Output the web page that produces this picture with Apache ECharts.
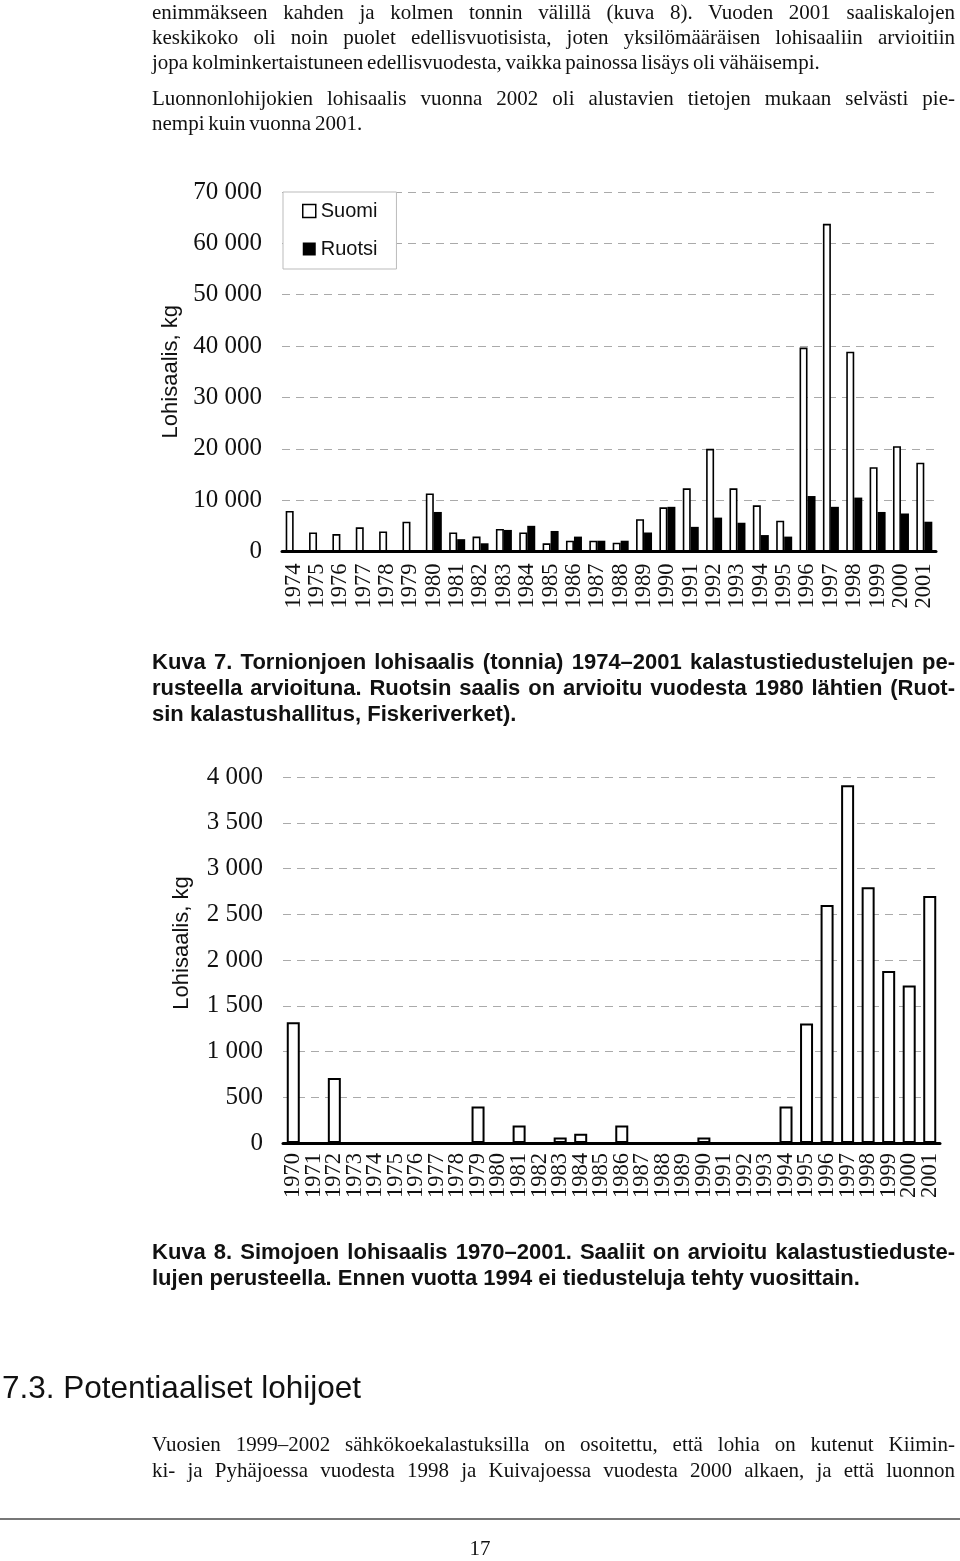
<!DOCTYPE html>
<html>
<head>
<meta charset="utf-8">
<script src="https://cdn.jsdelivr.net/npm/echarts@6/dist/echarts.min.js"></script>
<style>
  html, body { margin:0; padding:0; background:#fff; }
  #page { position:relative; width:960px; height:1561px; overflow:hidden; background:#fff; }
  #chart { position:absolute; left:0; top:0; width:960px; height:1561px; }
  .t { position:absolute; left:152px; white-space:nowrap; color:#111; z-index:2; }
  .full { width:803px; text-align:justify; text-align-last:justify; }
  .serif { font-family:'Liberation Serif','Times New Roman',serif; font-size:21px; line-height:25px; word-spacing:-1.5px; }
  .cap { font-family:'Liberation Sans',Arial,sans-serif; font-weight:bold; font-size:22px; line-height:26px; }
  .head { font-family:'Liberation Sans',Arial,sans-serif; font-size:31.5px; line-height:36px; left:2px; }
  .rule { position:absolute; left:0; top:1518px; width:960px; height:2px; background:#777; z-index:2; }
</style>
</head>
<body>
<div id="page">
  <div id="chart"></div>

  <div class="t serif full" style="top:0px">enimmäkseen kahden ja kolmen tonnin välillä (kuva 8). Vuoden 2001 saaliskalojen</div>
  <div class="t serif full" style="top:25px">keskikoko oli noin puolet edellisvuotisista, joten yksilömääräisen lohisaaliin arvioitiin</div>
  <div class="t serif" style="top:50px">jopa kolminkertaistuneen edellisvuodesta, vaikka painossa lisäys oli vähäisempi.</div>
  <div class="t serif full" style="top:86px">Luonnonlohijokien lohisaalis vuonna 2002 oli alustavien tietojen mukaan selvästi pie-</div>
  <div class="t serif" style="top:111px">nempi kuin vuonna 2001.</div>

  <div class="t cap full" style="top:649px">Kuva 7. Tornionjoen lohisaalis (tonnia) 1974–2001 kalastustiedustelujen pe-</div>
  <div class="t cap full" style="top:675px">rusteella arvioituna. Ruotsin saalis on arvioitu vuodesta 1980 lähtien (Ruot-</div>
  <div class="t cap" style="top:701px">sin kalastushallitus, Fiskeriverket).</div>

  <div class="t cap full" style="top:1239px">Kuva 8. Simojoen lohisaalis 1970–2001. Saaliit on arvioitu kalastustieduste-</div>
  <div class="t cap" style="top:1265px">lujen perusteella. Ennen vuotta 1994 ei tiedusteluja tehty vuosittain.</div>

  <div class="t head" style="top:1369px">7.3. Potentiaaliset lohijoet</div>

  <div class="t serif full" style="top:1432px">Vuosien 1999–2002 sähkökoekalastuksilla on osoitettu, että lohia on kutenut Kiimin-</div>
  <div class="t serif full" style="top:1458px">ki- ja Pyhäjoessa vuodesta 1998 ja Kuivajoessa vuodesta 2000 alkaen, ja että luonnon</div>

  <div class="rule"></div>
  <div class="t serif" style="top:1536px; left:0; width:960px; text-align:center;">17</div>
</div>

<script>
// ---- Data: Kuva 7, Tornionjoki (kg) ----
const years7 = ['1974','1975','1976','1977','1978','1979','1980','1981','1982','1983','1984','1985','1986','1987',
                '1988','1989','1990','1991','1992','1993','1994','1995','1996','1997','1998','1999','2000','2001'];
const suomi7 = [7900,3700,3400,4700,3900,5800,11300,3700,2900,4400,3700,1600,2100,2100,
                1700,6300,8600,12300,20000,12300,9000,6000,39700,63800,38900,16400,20500,17300];
const ruotsi7 = [null,null,null,null,null,null,7700,2400,1600,4200,5000,4000,2900,2100,
                 2100,3700,8700,4800,6600,5600,3200,2900,10800,8700,10500,7700,7400,5800];
const ticks7 = { min: 0, max: 70000, interval: 10000 };

// ---- Data: Kuva 8, Simojoki (kg) ----
const years8 = ['1970','1971','1972','1973','1974','1975','1976','1977','1978','1979','1980','1981','1982','1983',
                '1984','1985','1986','1987','1988','1989','1990','1991','1992','1993','1994','1995','1996','1997',
                '1998','1999','2000','2001'];
const simo8 = [1320,null,710,null,null,null,null,null,null,400,null,190,null,60,
               100,null,190,null,null,null,60,null,null,null,400,1305,2600,3910,
               2795,1880,1720,2700];
const ticks8 = { min: 0, max: 4000, interval: 500 };

const seriesNames = ['Suomi', 'Ruotsi'];
const yName = 'Lohisaalis, kg';

// fit justified lines that overflow
document.querySelectorAll('.full').forEach(el => {
  const target = 803;
  if (el.scrollWidth > target + 1) {
    const w = el.scrollWidth;
    el.style.width = w + 'px';
    el.style.transformOrigin = 'left top';
    el.style.transform = 'scaleX(' + (target / w) + ')';
  }
});

function fmt(v) { return String(v).replace(/\B(?=(\d{3})+(?!\d))/g, ' '); }

const serif = "'Liberation Serif','Times New Roman',serif";
const sans = "'Liberation Sans',Arial,sans-serif";

function xAxisCfg(idx, data, margin) {
  return {
    type: 'category', gridIndex: idx, data: data,
    axisLine: { show: true, lineStyle: { color: '#000', width: 3 } },
    axisTick: { show: false },
    axisLabel: { interval: 0, rotate: 90, fontFamily: serif, fontSize: 22.5, color: '#111', margin: margin },
    splitLine: { show: false }
  };
}
function yAxisCfg(idx, t, gap, pad) {
  return {
    type: 'value', gridIndex: idx, min: t.min, max: t.max, interval: t.interval,
    name: yName, nameLocation: 'middle', nameGap: gap,
    nameTextStyle: { fontFamily: sans, fontSize: 22, color: '#111', padding: pad },
    axisLine: { show: false }, axisTick: { show: false },
    axisLabel: { fontFamily: serif, fontSize: 25, color: '#111', margin: 20, formatter: fmt },
    splitLine: { show: true, lineStyle: { color: '#aaa', width: 1, type: [8, 6] } }
  };
}

const chart = echarts.init(document.getElementById('chart'), null, { renderer: 'canvas' });
chart.setOption({
  animation: false,
  backgroundColor: '#fff',
  grid: [
    { left: 282, right: 24, top: 192, height: 359.5 },
    { left: 283, right: 20, top: 777, height: 366 }
  ],
  legend: {
    data: [
      { name: seriesNames[0], icon: 'rect', itemStyle: { color: '#fff', borderColor: '#000', borderWidth: 1.5 } },
      { name: seriesNames[1], icon: 'rect', itemStyle: { color: '#000' } }
    ],
    orient: 'vertical', left: 283, top: 192,
    itemWidth: 13, itemHeight: 13, itemGap: 18,
    padding: [9, 19, 10, 19],
    borderColor: '#bbb', borderWidth: 1, backgroundColor: '#fff',
    textStyle: { fontFamily: sans, fontSize: 20, color: '#111' }
  },
  xAxis: [ xAxisCfg(0, years7, 12), xAxisCfg(1, years8, 10) ],
  yAxis: [ yAxisCfg(0, ticks7, 100, [0, 0, 0, 0]), yAxisCfg(1, ticks8, 90, [0, 0, 0, 34]) ],
  series: [
    { name: seriesNames[0], type: 'bar', xAxisIndex: 0, yAxisIndex: 0, data: suomi7,
      barWidth: 8, barGap: '0%',
      itemStyle: { color: '#fff', borderColor: '#000', borderWidth: 1.6 } },
    { name: seriesNames[1], type: 'bar', xAxisIndex: 0, yAxisIndex: 0, data: ruotsi7,
      barWidth: 8, barGap: '0%',
      itemStyle: { color: '#000' } },
    { name: 'Simojoki', type: 'bar', xAxisIndex: 1, yAxisIndex: 1, data: simo8,
      barWidth: 13,
      itemStyle: { color: '#fff', borderColor: '#000', borderWidth: 2 } }
  ]
});
</script>
</body>
</html>
